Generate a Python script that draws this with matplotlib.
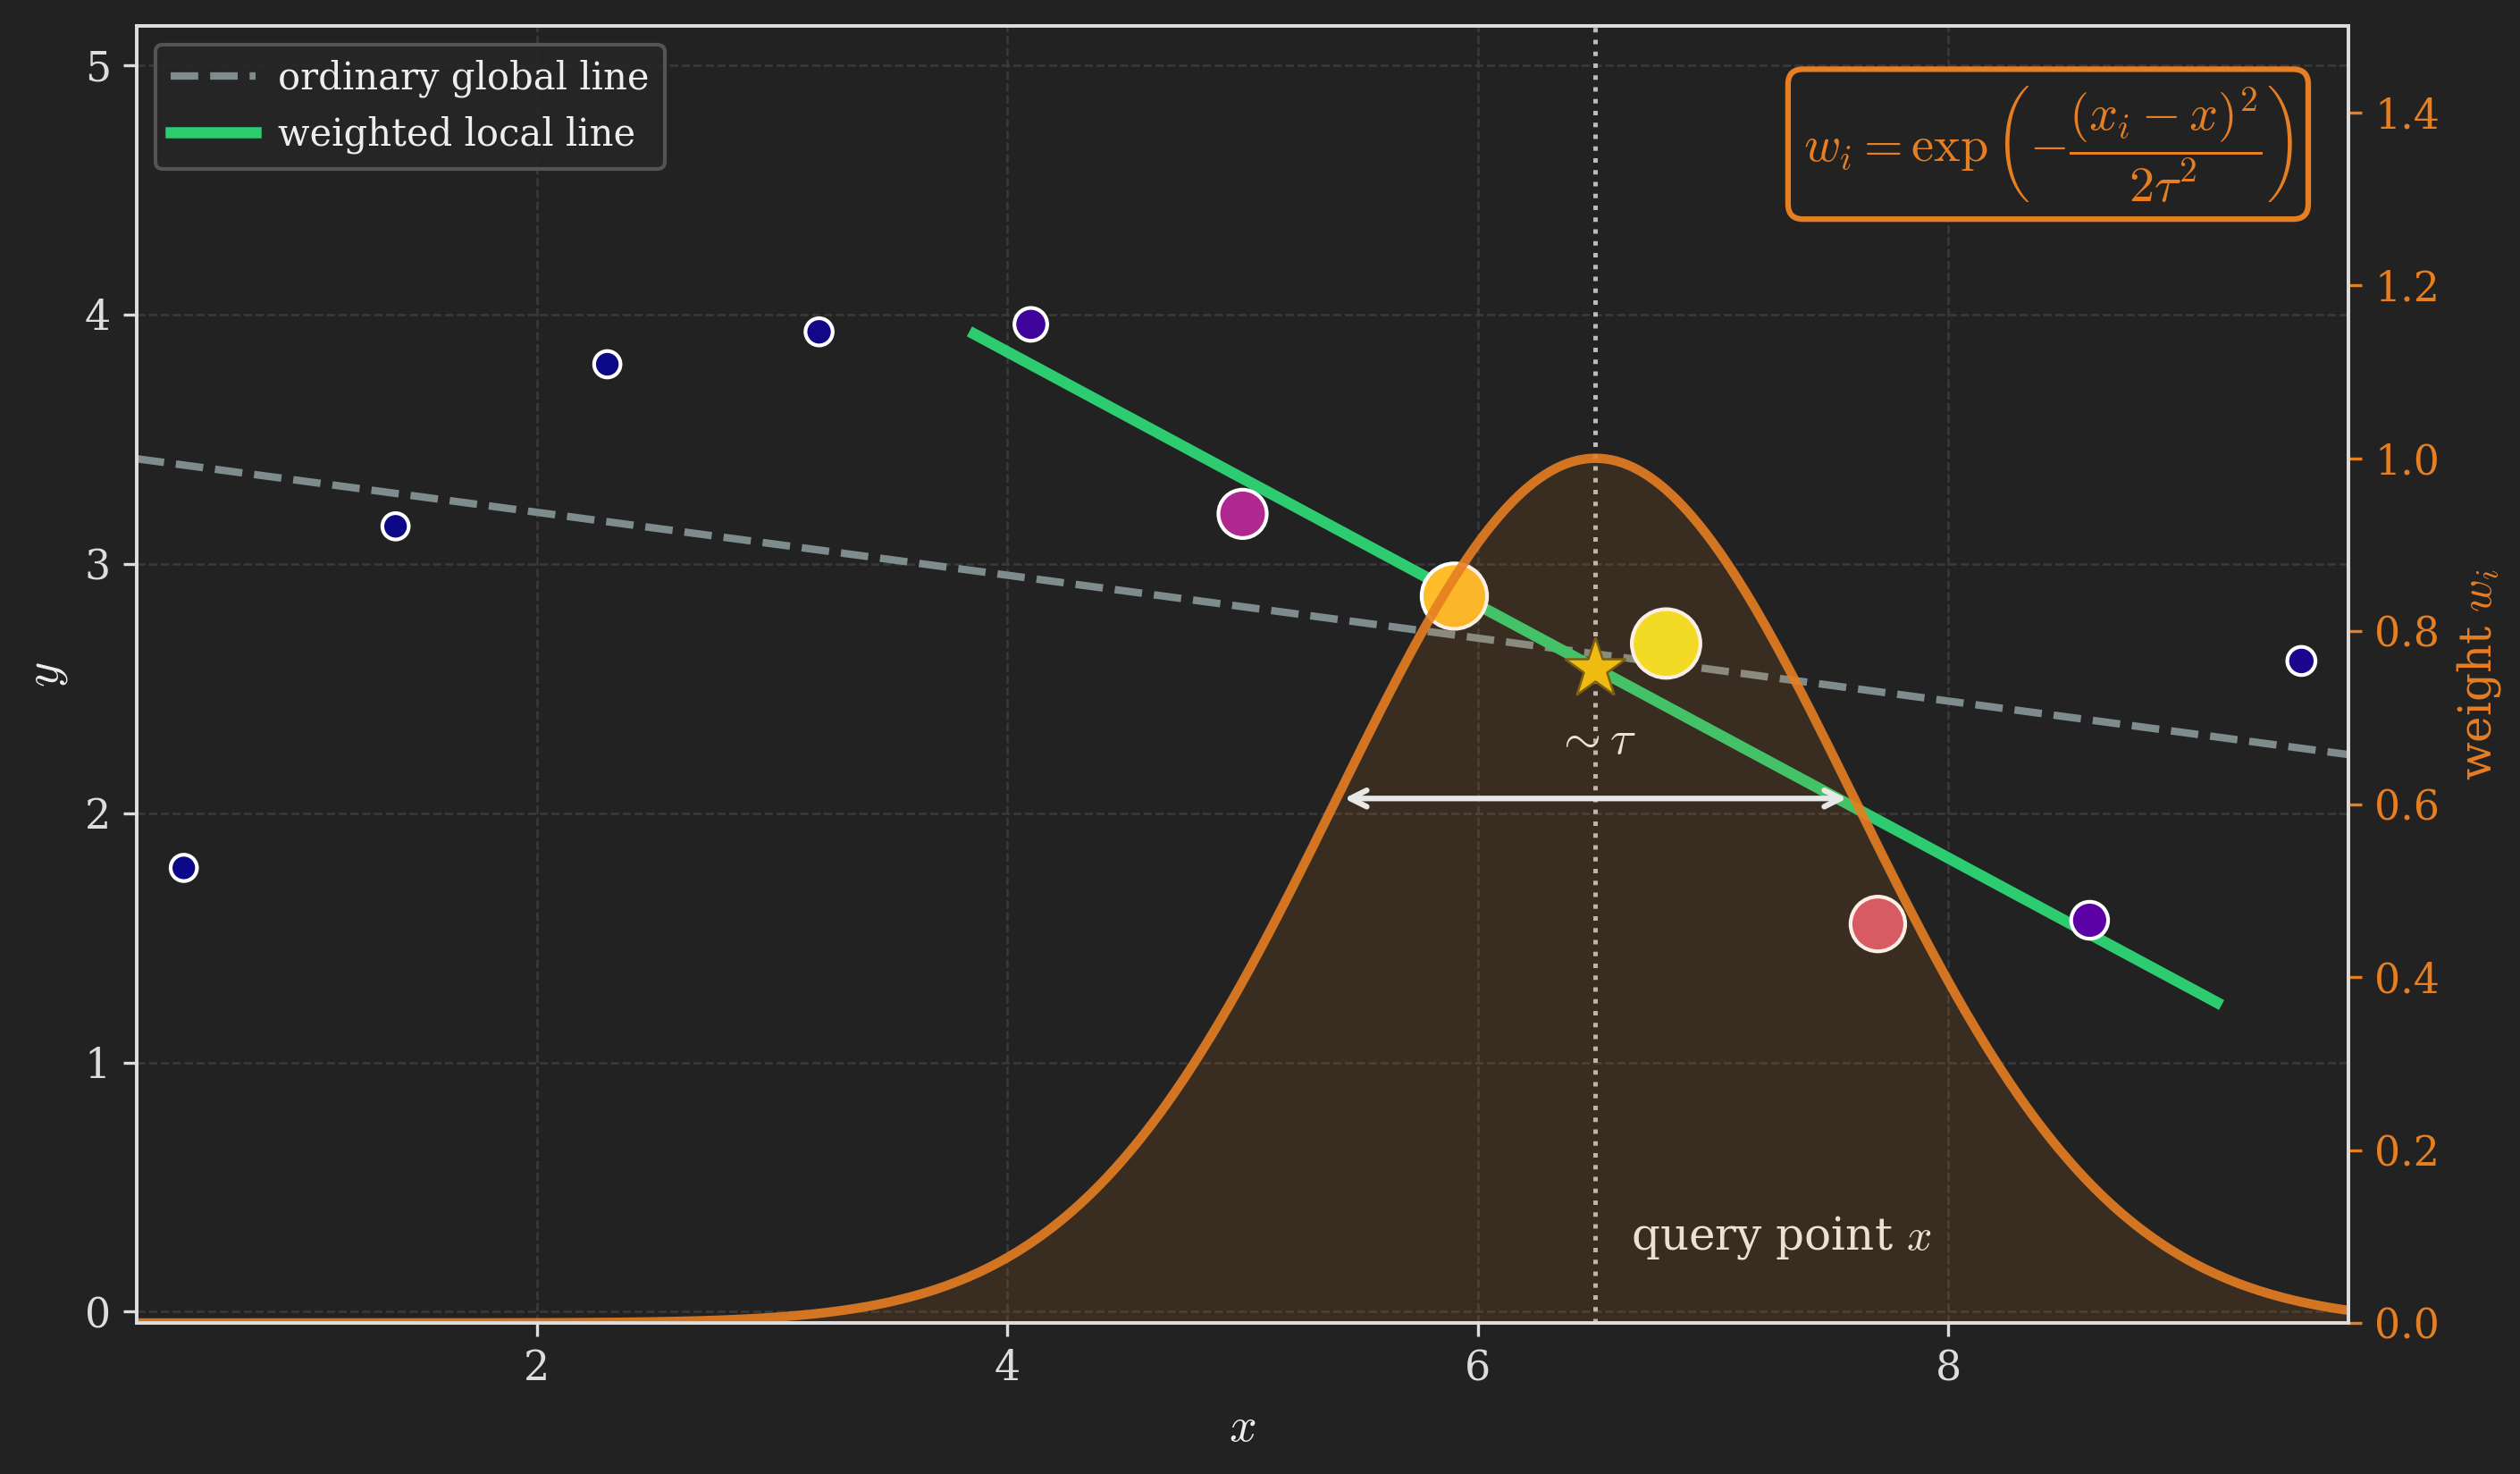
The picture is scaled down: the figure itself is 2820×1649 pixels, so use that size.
import numpy as np
import matplotlib
matplotlib.use("Agg")
import matplotlib.pyplot as plt

# ---- data ----
x_pts = [0.5, 1.4, 2.3, 3.2, 4.1, 5.0, 5.9, 6.8, 7.7, 8.6, 9.5]
y_pts = [1.78, 3.15, 3.80, 3.93, 3.96, 3.20, 2.87, 2.68, 1.555, 1.57, 2.61]
x_query = 6.5
tau = 1.1
x_ticks = [2, 4, 6, 8]
y_ticks = [0, 1, 2, 3, 4, 5]
w_ticks = [0.0, 0.2, 0.4, 0.6, 0.8, 1.0, 1.2, 1.4]
x_limits = (0.3, 9.7)
y_limits = (-0.045, 5.157)
w_limits = (0.0, 1.5)
legend_labels = ["ordinary global line", "weighted local line"]

BG = "#222222"
ORANGE = "#e67e22"
GREEN = "#2ecc71"
GRAY = "#7f8c8d"
LIGHT = "#eeeeee"

plt.rcParams.update({
    "font.family": "serif",
    "font.serif": ["DejaVu Serif"],
    "mathtext.fontset": "cm",
    "font.size": 11,
    "figure.facecolor": BG,
    "axes.facecolor": BG,
    "savefig.facecolor": BG,
    "text.color": LIGHT,
    "axes.edgecolor": "#dddddd",
    "axes.labelcolor": LIGHT,
    "xtick.color": "#dddddd",
    "ytick.color": "#dddddd",
    "axes.linewidth": 0.9,
})

x = np.array(x_pts)
y = np.array(y_pts)
w = np.exp(-(x - x_query) ** 2 / (2 * tau ** 2))

# fits
g1, g0 = np.polyfit(x, y, 1)
l1, l0 = np.polyfit(x, y, 1, w=np.sqrt(w))
y_query = l0 + l1 * x_query

fig = plt.figure(figsize=(9.4, 1649 / 300), dpi=300)
ax = fig.add_axes([0.05426, 0.10249, 0.87766, 0.87993])

ax.grid(True, color="#3a3a3a", ls="--", lw=0.6)
ax.set_axisbelow(True)

xs_full = np.linspace(x_limits[0], x_limits[1], 200)
ax.plot(xs_full, g0 + g1 * xs_full, ls="--", color=GRAY, lw=2,
        label=legend_labels[0], zorder=2)
xs_loc = np.linspace(x_query - 2.4 * tau, x_query + 2.4 * tau, 200)
ax.plot(xs_loc, l0 + l1 * xs_loc, color=GREEN, lw=3,
        label=legend_labels[1], zorder=3)
ax.axvline(x_query, color="#bbbbbb", ls=":", lw=1.2, zorder=1)
ax.scatter(x, y, s=50 + 300 * w, c=w, cmap="plasma", vmin=0, vmax=1,
           edgecolors="white", linewidths=1.0, zorder=4)
ax.plot([x_query], [y_query], marker="*", ms=17, color="#f1c40f",
        mec="#6e5a10", mew=0.6, ls="none", zorder=5)

ax.text(x_query, 2.2, r"$\sim\tau$", ha="center", va="bottom",
        fontsize=13, color=LIGHT, zorder=6)
ax.text(x_query + 0.15, 0.25, r"query point $x$", ha="left",
        va="baseline", fontsize=12, color=LIGHT, zorder=6)

ax.set_xlim(*x_limits)
ax.set_ylim(*y_limits)
ax.set_xticks(x_ticks)
ax.set_yticks(y_ticks)
ax.tick_params(labelsize=11)
ax.set_xlabel(r"$x$", fontsize=13, labelpad=4)
ax.set_ylabel(r"$y$", fontsize=13)

leg = ax.legend(loc="upper left", fontsize=10, facecolor="#262626",
                edgecolor="#5a5a5a", framealpha=0.9, labelcolor=LIGHT,
                handlelength=2.3, handletextpad=0.6)

# weight axis
ax2 = ax.twinx()
xg = np.linspace(x_limits[0], x_limits[1], 400)
wg = np.exp(-(xg - x_query) ** 2 / (2 * tau ** 2))
ax2.fill_between(xg, 0, wg, color=ORANGE, alpha=0.12, lw=0)
ax2.plot(xg, wg, color=ORANGE, lw=2.5, alpha=0.9)
ax2.annotate("", xy=(x_query - tau, np.exp(-0.5)),
             xytext=(x_query + tau, np.exp(-0.5)),
             arrowprops=dict(arrowstyle="<->", color="#e8e8e8", lw=1.5))
ax2.set_ylim(*w_limits)
ax2.set_yticks(w_ticks)
ax2.set_yticklabels([f"{t:.1f}" for t in w_ticks])
ax2.tick_params(axis="y", colors=ORANGE, labelsize=11)
ax2.set_ylabel(r"weight $w_i$", color=ORANGE, fontsize=12)
ax2.set_xlim(*x_limits)

formula = r"$w_i = \exp\left(-\dfrac{(x_i - x)^2}{2\tau^2}\right)$"
ax2.text(0.975, 0.955, formula, transform=ax2.transAxes, ha="right",
         va="top", fontsize=13.5, color=ORANGE,
         bbox=dict(boxstyle="round,pad=0.3", fc=BG, ec=ORANGE, lw=1.5))

fig.savefig("out.png", dpi=300)
